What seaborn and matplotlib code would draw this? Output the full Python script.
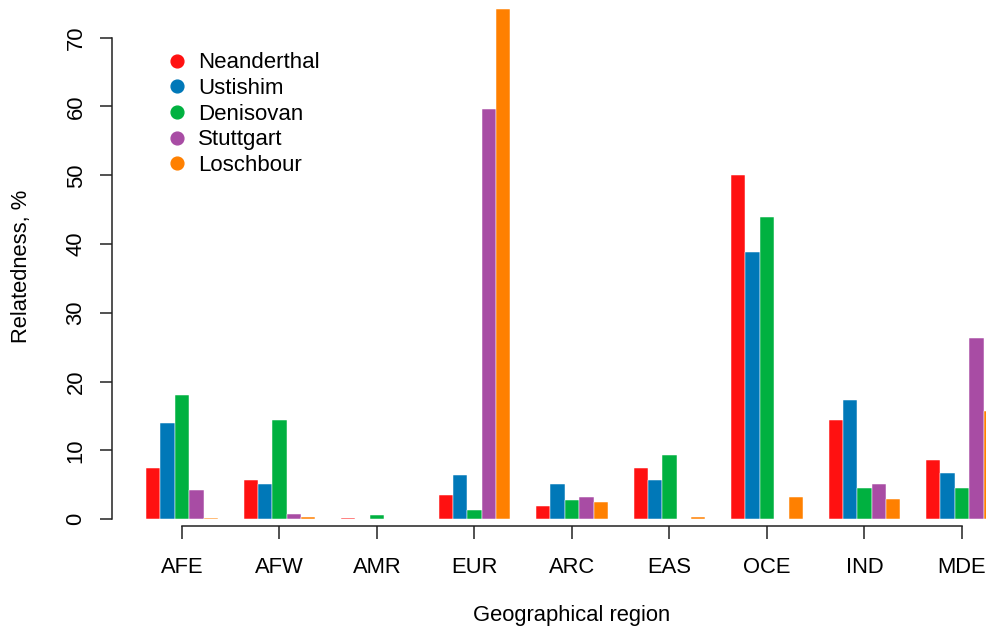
import matplotlib
matplotlib.use("Agg")
import matplotlib.pyplot as plt
import seaborn as sns
import pandas as pd
from matplotlib.lines import Line2D

regions = ["AFE", "AFW", "AMR", "EUR", "ARC", "EAS", "OCE", "IND", "MDE"]
samples = ["Neanderthal", "Ustishim", "Denisovan", "Stuttgart", "Loschbour"]
neanderthal = [7.5, 5.7, 0.25, 3.6, 2.0, 7.4, 50.0, 14.4, 8.6]
ustishim = [14.0, 5.2, 0.0, 6.5, 5.2, 5.7, 38.8, 17.3, 6.8]
denisovan = [18.0, 14.4, 0.6, 1.4, 2.8, 9.3, 43.9, 4.5, 4.5]
stuttgart = [4.2, 0.75, 0.0, 59.7, 3.3, 0.0, 0.0, 5.2, 26.4]
loschbour = [0.25, 0.3, 0.0, 74.2, 2.5, 0.35, 3.3, 2.9, 15.8]
colors = ["#FF1111", "#0078B8", "#00B140", "#A84CA4", "#FF8000"]
yticks = [0, 10, 20, 30, 40, 50, 60, 70]

series = [neanderthal, ustishim, denisovan, stuttgart, loschbour]
rows = []
for s, vals in zip(samples, series):
    for r, v in zip(regions, vals):
        rows.append({"region": r, "sample": s, "value": v})
df = pd.DataFrame(rows)

sns.set_style("white")
plt.rcParams["font.family"] = ["Liberation Sans", "DejaVu Sans"]
plt.rcParams["text.color"] = "black"
plt.rcParams["axes.labelcolor"] = "black"

W, H = 987, 627
fig = plt.figure(figsize=(W / 100, H / 100), dpi=100)
ax_left, ax_right = 112, 987
ax_bottom, ax_top = 519.3, 0
ax = fig.add_axes([ax_left / W, 1 - ax_bottom / H, (ax_right - ax_left) / W, (ax_bottom - ax_top) / H])

sns.barplot(data=df, x="region", y="value", hue="sample", hue_order=samples,
            order=regions, palette=colors, width=0.738, dodge=True, gap=0,
            saturation=1, edgecolor="white", linewidth=0.35, errorbar=None,
            legend=False, ax=ax)

px_per_unit = (519.3 - 37.7) / 70
ax.set_ylim(0, (ax_bottom - ax_top) / px_per_unit)
grp = 97.5
ax.set_xlim((ax_left - 182) / grp, (ax_right - 182) / grp)

for side in ["top", "right"]:
    ax.spines[side].set_visible(False)
for side in ["left", "bottom"]:
    ax.spines[side].set_color("#222222")
    ax.spines[side].set_linewidth(1.1)
ax.spines["left"].set_bounds(0, 70)
ax.spines["bottom"].set_bounds(0, 8)
ax.spines["bottom"].set_position(("outward", 4.7))

fs = 15.8
ax.set_yticks(yticks)
ax.set_yticklabels([str(t) for t in yticks], rotation=90, va="center")
ax.tick_params(axis="both", direction="out", length=9, width=1.1, color="#222222",
               labelsize=fs, labelcolor="black", left=True, bottom=True)
ax.tick_params(axis="x", pad=13.3)
ax.tick_params(axis="y", pad=9.3)

ax.set_ylabel("Relatedness, %", fontsize=fs, ha="center", va="center", color="black")
ax.yaxis.set_label_coords((22 - ax_left) / (ax_right - ax_left), (ax_bottom - 266) / (ax_bottom - ax_top))
ax.set_xlabel("Geographical region", fontsize=fs, ha="center", va="center", color="black")
ax.xaxis.set_label_coords((572 - ax_left) / (ax_right - ax_left), (ax_bottom - 615) / (ax_bottom - ax_top))

handles = [Line2D([0], [0], marker="o", linestyle="none", markersize=9.2,
                  markerfacecolor=c, markeredgecolor=c) for c in colors]
fig.legend(handles, samples, loc="upper left", frameon=False, fontsize=16,
           bbox_to_anchor=(166 / W, 1 - 52.5 / H), borderpad=0, borderaxespad=0,
           handlelength=1.0, handletextpad=0.45, labelspacing=0.21, labelcolor="black")

fig.savefig("out.png", dpi=100)
